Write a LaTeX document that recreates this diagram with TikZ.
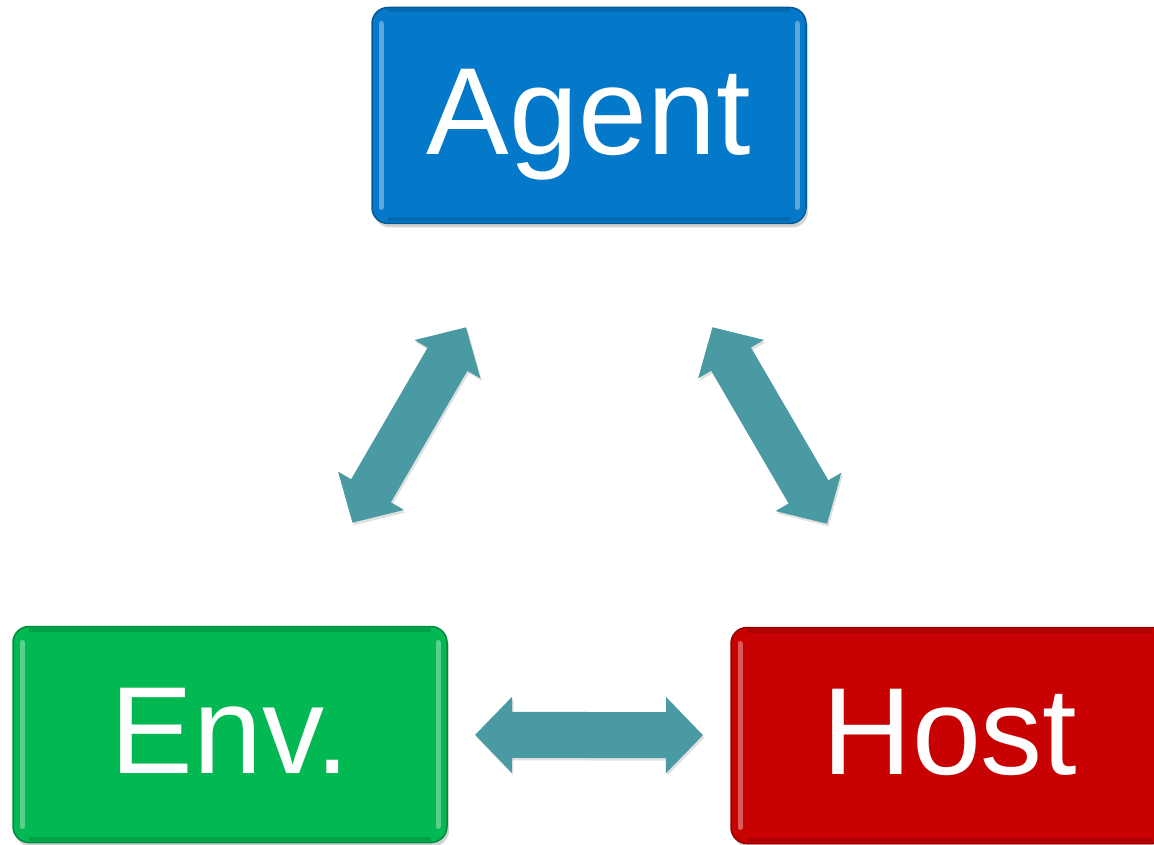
\documentclass[tikz,border=0pt]{standalone}
\usepackage{fontspec}
\setmainfont{Liberation Sans}
\usetikzlibrary{arrows.meta,shadows}
\definecolor{agentblue}{RGB}{4,120,201}
\definecolor{envgreen}{RGB}{2,184,82}
\definecolor{hostred}{RGB}{200,2,2}
\definecolor{linkteal}{RGB}{74,154,163}
\begin{document}
\begin{tikzpicture}[x=1pt,y=-1pt,
  box/.style={rounded corners=16pt, minimum width=434pt, minimum height=216pt,
    outer sep=0pt, inner sep=0pt, text=white, line width=1.5pt,
    text height=89pt, text depth=11pt,
    font=\fontsize{124pt}{124pt}\selectfont,
    drop shadow={shadow xshift=2pt, shadow yshift=-4pt, opacity=.35},
    path picture={
      \draw[white, opacity=.35, line width=5pt, line cap=round]
        ([shift={(9pt,-16pt)}]path picture bounding box.north west) --
        ([shift={(9pt,16pt)}]path picture bounding box.south west);
      \draw[white, opacity=.35, line width=5pt, line cap=round]
        ([shift={(-9pt,-16pt)}]path picture bounding box.north east) --
        ([shift={(-9pt,16pt)}]path picture bounding box.south east);
      \draw[black, opacity=.12, line width=4pt]
        ([shift={(16pt,-3pt)}]path picture bounding box.north west) --
        ([shift={(-16pt,-3pt)}]path picture bounding box.north east);
      \draw[black, opacity=.12, line width=4pt]
        ([shift={(16pt,4pt)}]path picture bounding box.south west) --
        ([shift={(-16pt,4pt)}]path picture bounding box.south east);}},
  link/.style={draw=linkteal, line width=46pt,
    {Triangle[width=74pt,length=37pt]}-{Triangle[width=74pt,length=37pt]},
    preaction={draw=black, opacity=.12, line width=46pt,
      transform canvas={shift={(1.5pt,-2.5pt)}}}}]
\clip (0,0) rectangle (1154,845);
\node[box, fill=agentblue, draw=agentblue!75!black] (agent) at (589,115.5) {Agent};
\node[box, fill=envgreen, draw=envgreen!75!black] (env) at (230,734.5) {Env.};
\node[box, fill=hostred, draw=hostred!75!black, minimum width=438pt] (host) at (950,735.5) {Host};
\draw[link, shorten <=120pt, shorten >=120pt] (agent) -- (env);
\draw[link, shorten <=120pt, shorten >=120pt] (agent) -- (host);
\draw[link, shorten <=28pt, shorten >=28pt] (env) -- (host);
\end{tikzpicture}
\end{document}
